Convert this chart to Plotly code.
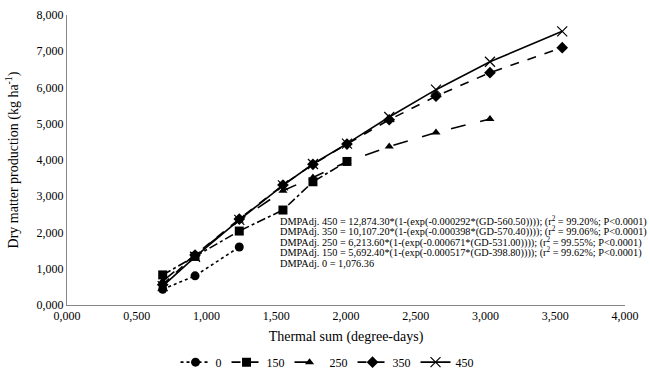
import plotly.graph_objects as go

thermal_sum = [686, 918, 1235, 1548, 1763, 2007, 2310, 2645, 3032, 3550]
dm_0 = [435, 805, 1600]
dm_150 = [830, 1340, 2040, 2620, 3400, 3960]
dm_250 = [660, 1380, 2330, 3150, 3520, 3950, 4370, 4760, 5130]
dm_350 = [560, 1380, 2370, 3310, 3880, 4440, 5110, 5760, 6410, 7100]
dm_450 = [520, 1330, 2350, 3300, 3890, 4450, 5185, 5940, 6710, 7550]

series_names = ["0", "150", "250", "350", "450"]
series_values = [dm_0, dm_150, dm_250, dm_350, dm_450]
dashes = ["dot", "dashdot", "longdash", "dash", "solid"]
symbols = ["circle", "square", "triangle-up", "diamond", "x-thin-open"]
msizes = [9, 9, 8, 9, 10]

x_ticks = [0, 500, 1000, 1500, 2000, 2500, 3000, 3500, 4000]
x_tick_labels = ["0,000", "0,500", "1,000", "1,500", "2,000", "2,500", "3,000", "3,500", "4,000"]
y_ticks = [0, 1000, 2000, 3000, 4000, 5000, 6000, 7000, 8000]
y_tick_labels = ["0,000", "1,000", "2,000", "3,000", "4,000", "5,000", "6,000", "7,000", "8,000"]

equations = [
    "DMPAdj. 450 = 12,874.30*(1-(exp(-0.000292*(GD-560.50)))); (r<sup>2</sup> = 99.20%; P<0.0001)",
    "DMPAdj. 350 = 10,107.20*(1-(exp(-0.000398*(GD-570.40)))); (r<sup>2</sup> = 99.06%; P<0.0001)",
    "DMPAdj. 250 = 6,213.60*(1-(exp(-0.000671*(GD-531.00)))); (r<sup>2</sup> = 99.55%; P<0.0001)",
    "DMPAdj. 150 = 5,692.40*(1-(exp(-0.000517*(GD-398.80)))); (r<sup>2</sup> = 99.62%; P<0.0001)",
    "DMPAdj. 0 = 1,076.36",
]

FONT = "Liberation Serif, Times New Roman, Times, serif"

fig = go.Figure()
for name, vals, dash, sym, ms in zip(series_names, series_values, dashes, symbols, msizes):
    marker = dict(symbol=sym, size=ms, color="black")
    if sym == "x-thin-open":
        marker["line"] = dict(color="black", width=1.2)
    fig.add_trace(go.Scatter(
        x=thermal_sum[:len(vals)], y=vals, name=name, mode="lines+markers",
        line=dict(color="black", width=1.6, dash=dash),
        marker=marker,
    ))

for i, t in enumerate(equations):
    fig.add_annotation(
        x=1520, y=2310 - i * 290, xref="x", yref="y", text=t, showarrow=False,
        xanchor="left", yanchor="middle", align="left", borderpad=0,
        font=dict(size=10.3, color="black", family=FONT),
    )

fig.update_layout(
    width=650, height=376,
    margin=dict(l=67, r=25, t=15, b=71, autoexpand=False),
    paper_bgcolor="white", plot_bgcolor="white",
    font=dict(family=FONT, size=12, color="black"),
    showlegend=True,
    legend=dict(orientation="h", x=0.466, xanchor="center", y=-0.197, yanchor="middle",
                font=dict(size=12, family=FONT), itemwidth=30, tracegroupgap=0),
    xaxis=dict(range=[0, 4000], tickvals=x_ticks, ticktext=x_tick_labels,
               showline=True, linecolor="#868686", linewidth=1, showgrid=False,
               zeroline=False, ticks="", title=dict(text="Thermal sum (degree-days)", standoff=8)),
    yaxis=dict(range=[0, 8000], tickvals=y_ticks, ticktext=y_tick_labels,
               showline=True, linecolor="#868686", linewidth=1, showgrid=False,
               zeroline=False, ticks="", title=dict(text="Dry matter production (kg ha<sup>-1</sup>)", standoff=14)),
)

fig.write_html("out.html", config={"displayModeBar": False},
               post_script="document.body.style.margin='0';")
